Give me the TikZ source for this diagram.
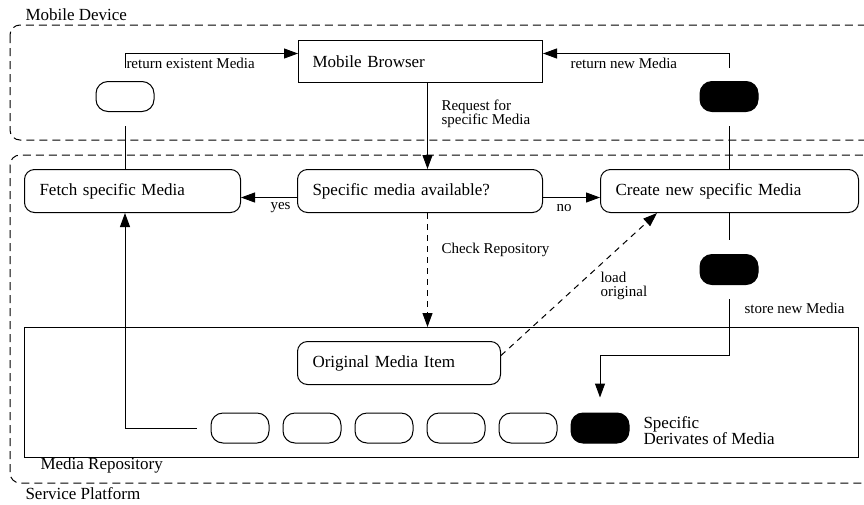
\documentclass[tikz,border=0pt]{standalone}
\usepackage{fontspec}
\setmainfont{Liberation Serif}
\usetikzlibrary{arrows.meta}

\begin{document}
\begin{tikzpicture}[x=1pt,y=-1pt,
  line width=1pt,
  frame/.style={draw, dashed, dash pattern=on 8pt off 5pt, rounded corners=10pt},
  box/.style={draw, rounded corners=10pt, minimum height=43pt, inner xsep=15pt,
    inner ysep=0pt, align=left, anchor=north west, font=\fontsize{17}{20}\selectfont},
  sqbox/.style={box, rounded corners=0pt, minimum height=42pt, inner xsep=14pt},
  pill/.style={draw, rounded corners=12pt, minimum width=58pt, minimum height=30pt, inner sep=0pt},
  bpill/.style={pill, fill=black},
  lbl/.style={anchor=west, inner sep=0pt, align=left, font=\fontsize{15}{14}\selectfont},
  big/.style={anchor=west, inner sep=0pt, align=left, font=\fontsize{17}{14}\selectfont},
  arr/.style={-{Triangle[length=14pt,width=10pt]}}]

\useasboundingbox (0,0) rectangle (864,504);
\clip (0,0) rectangle (864,504);

% the two platforms
\draw[frame] (10,25) rectangle (900,140);
\draw[frame] (10,155) rectangle (900,483);
\node[big] (mobdev) at (25,15) {Mobile Device};
\node[big] (servpl) at (25,494) {Service Platform};

% media repository
\node[draw, minimum width=834pt, minimum height=130pt, anchor=north west, inner sep=0pt]
  (repo) at (24,327) {};
\node[big] (repolbl) at (40,465) {Media Repository};

% activity boxes
\node[sqbox, text width=216pt] (browser) at (298,40) {Mobile Browser};
\node[box, text width=186pt] (fetch) at (24,169) {Fetch specific Media};
\node[box, text width=215pt] (avail) at (297,169) {Specific media available?};
\node[box, text width=228pt] (create) at (600,169) {Create new specific Media};
\node[box, text width=173pt] (orig) at (297,341) {Original Media Item};

% media objects
\node[pill] (pillL) at (125,96.5) {};
\node[bpill] (pillR) at (729,96.5) {};
\node[bpill] (pillS) at (729,269.5) {};
\node[pill] (p1) at (240,428) {};
\node[pill] (p2) at (312,428) {};
\node[pill] (p3) at (384,428) {};
\node[pill] (p4) at (456,428) {};
\node[pill] (p5) at (528,428) {};
\node[bpill] (p6) at (600,428) {};
\node[big] (derlbl) at (643,430.5) {Specific\\Derivates of Media};

% line ends around the media objects
\coordinate (gL1) at (125,126);
\coordinate (gL2) at (125,68);
\coordinate (gR1) at (729,126);
\coordinate (gR2) at (729,68);
\coordinate (gS1) at (729,240);
\coordinate (gS2) at (729,299);
\coordinate (sbend) at (729,355);
\coordinate (fstart) at ([xshift=-14pt]p1.west);
\coordinate (chk) at ([xshift=7.5pt]avail.south);

% return existent media
\draw (fetch.north -| gL1) -- (gL1);
\draw[arr] (gL2) |- ([yshift=8pt]browser.west);
\node[lbl] at (126,63) {return existent Media};

% return new media
\draw (create.north -| gR1) -- (gR1);
\draw[arr] (gR2) |- ([yshift=8pt]browser.east);
\node[lbl] at (570,63) {return new Media};

% request
\draw[arr] ([xshift=7pt]browser.south) -- ([xshift=7.5pt]avail.north);
\node[lbl] at (441,114) {Request for\\specific Media};

% decision
\draw[arr] ([yshift=-6.5pt]avail.west) -- ([yshift=-6.5pt]fetch.east);
\node[lbl] at (270,208) {yes};
\draw[arr] ([yshift=-6.5pt]avail.east) -- ([yshift=-6.5pt]create.west);
\node[lbl] at (556,208) {no};

% check repository
\draw[arr, dashed, dash pattern=on 6pt off 5pt] (chk) -- (repo.north -| chk);
\node[lbl] at (441,250) {Check Repository};

% load original
\draw[arr, dashed, dash pattern=on 6pt off 5pt] ([yshift=7.5pt]orig.east) -- ([xshift=57pt]create.south west);
\node[lbl] at (600,285.5) {load\\original};

% store new media
\draw (create.south -| gS1) -- (gS1);
\draw[arr, shorten >=15pt] (gS2) -- (sbend) -| (p6.north);
\node[lbl] at (744,308) {store new Media};

% fetch from repository
\draw[arr] (fstart) -| (fetch.south -| gL1);

\end{tikzpicture}
\end{document}
